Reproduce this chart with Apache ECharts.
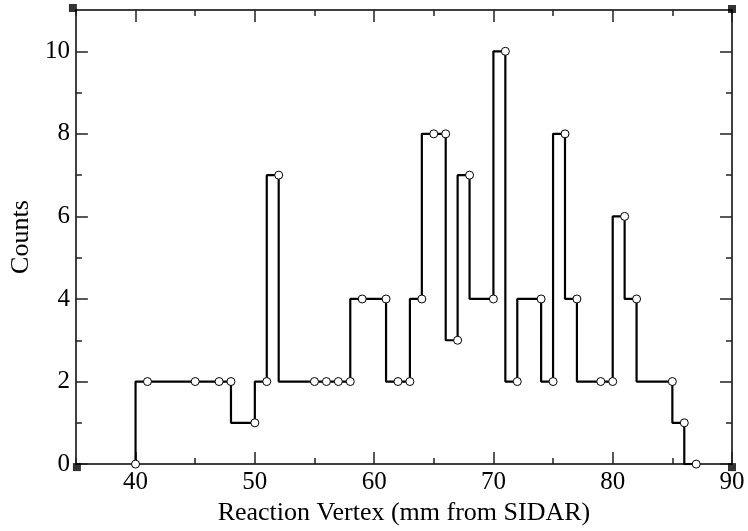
<!DOCTYPE html>
<html>
<head>
<meta charset="utf-8">
<script src="https://cdn.jsdelivr.net/npm/echarts@6/dist/echarts.min.js"></script>
<style>
  html, body { margin: 0; padding: 0; background: #fff; }
  #chart { width: 748px; height: 531px; }
</style>
</head>
<body>
<div id="chart"></div>
<script>
// Reaction vertex histogram (counts per position along the beam)
const vertexMm = [40, 41, 45, 47, 48, 50, 51, 52, 55, 56, 57, 58, 59, 61, 62, 63, 64, 65,
                  66, 67, 68, 70, 71, 72, 74, 75, 76, 77, 79, 80, 81, 82, 85, 86, 87];
const counts   = [0, 2, 2, 2, 2, 1, 2, 7, 2, 2, 2, 2, 4, 4, 2, 2, 4, 8,
                  8, 3, 7, 4, 10, 2, 4, 2, 8, 4, 2, 2, 6, 4, 2, 1, 0];

// Axis ranges and tick positions
const xRange = [35, 90];
const yRange = [0, 11];
const xMajorTicks = [40, 50, 60, 70, 80, 90];
const xMinorTicks = [35, 45, 55, 65, 75, 85];
const yMajorTicks = [0, 2, 4, 6, 8, 10];
const yMinorTicks = [1, 3, 5, 7, 9];

const serif = 'Liberation Serif';
const axisColor = '#000';

function xAxisDef(position, ticks, len, withLine, withLabels) {
  return {
    type: 'value', min: xRange[0], max: xRange[1], position: position,
    axisLine: { show: withLine, onZero: false, lineStyle: { color: axisColor, width: 1.5 } },
    axisTick: { show: true, inside: true, length: len, customValues: ticks,
                lineStyle: { color: '#222', width: 1.5 } },
    axisLabel: withLabels
      ? { show: true, customValues: ticks, margin: 6, color: '#000', fontFamily: serif, fontSize: 25 }
      : { show: false },
    splitLine: { show: false }
  };
}
function yAxisDef(position, ticks, len, withLine, withLabels) {
  return {
    type: 'value', min: yRange[0], max: yRange[1], position: position,
    axisLine: { show: withLine, onZero: false, lineStyle: { color: axisColor, width: 1.5 } },
    axisTick: { show: true, inside: true, length: len, customValues: ticks,
                lineStyle: { color: '#222', width: 1.5 } },
    axisLabel: withLabels
      ? { show: true, customValues: ticks, margin: 6, color: '#000', fontFamily: serif, fontSize: 25 }
      : { show: false },
    splitLine: { show: false }
  };
}

const xBottom = xAxisDef('bottom', xMajorTicks, 12, true, true);
xBottom.name = 'Reaction Vertex (mm from SIDAR)';
xBottom.nameLocation = 'middle';
xBottom.nameGap = 28;
xBottom.nameTextStyle = { color: '#000', fontFamily: serif, fontSize: 26 };

const yLeft = yAxisDef('left', yMajorTicks, 12, true, true);
yLeft.name = 'Counts';
yLeft.nameLocation = 'middle';
yLeft.nameGap = 38;
yLeft.nameTextStyle = { color: '#000', fontFamily: serif, fontSize: 26 };

// Frame corner markers
const corners = [
  { value: [xRange[0], yRange[1]], symbolOffset: [-3, -2] },
  { value: [xRange[0], yRange[0]], symbolOffset: [1, 3] },
  { value: [xRange[1], yRange[0]], symbolOffset: [0, 3] },
  { value: [xRange[1], yRange[1]], symbolOffset: [0, -1] }
];

const chart = echarts.init(document.getElementById('chart'), null, { renderer: 'canvas' });
chart.setOption({
  animation: false,
  backgroundColor: '#fff',
  grid: { left: 71, right: 16, top: 10, bottom: 59, containLabel: false },
  xAxis: [
    xBottom,
    xAxisDef('bottom', xMinorTicks, 6, false, false),
    xAxisDef('top', xMajorTicks, 12, true, false),
    xAxisDef('top', xMinorTicks, 6, false, false)
  ],
  yAxis: [
    yLeft,
    yAxisDef('left', yMinorTicks, 6, false, false),
    yAxisDef('right', yMajorTicks, 12, true, false),
    yAxisDef('right', yMinorTicks, 6, false, false)
  ],
  series: [
    {
      type: 'line',
      xAxisIndex: 0, yAxisIndex: 0,
      step: 'start',
      data: vertexMm.map((x, i) => [x, counts[i]]),
      symbol: 'circle',
      symbolSize: 8,
      showAllSymbol: true,
      lineStyle: { color: '#000', width: 2.2 },
      itemStyle: { color: '#fff', borderColor: '#000', borderWidth: 1 },
      z: 3
    },
    {
      type: 'scatter',
      xAxisIndex: 0, yAxisIndex: 0,
      data: corners,
      symbol: 'rect',
      symbolSize: 8,
      clip: false,
      itemStyle: { color: '#000' },
      silent: true,
      z: 4
    }
  ]
});
</script>
</body>
</html>
